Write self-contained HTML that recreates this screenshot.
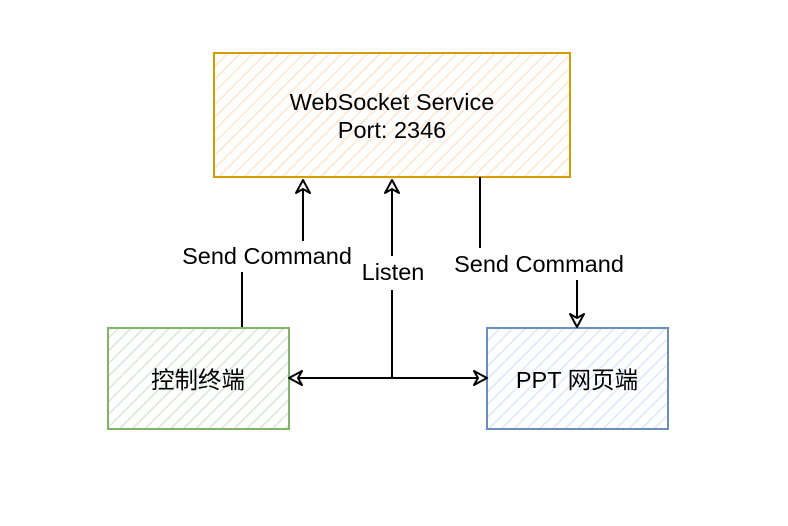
<!DOCTYPE html>
<html><head><meta charset="utf-8"><style>
html,body{margin:0;padding:0;background:#fff;}
svg{display:block}
text{font-family:"Liberation Sans","Noto Sans CJK SC",sans-serif;font-size:23.5px;fill:#000;text-anchor:middle}
</style></head><body>
<svg width="788" height="526" viewBox="0 0 788 526">
<defs>
<pattern id="po" width="9" height="9" patternUnits="userSpaceOnUse" patternTransform="rotate(45)"><rect width="9" height="9" fill="#fff"/><line x1="0" y1="0" x2="0" y2="9" stroke="#ffe6cc" stroke-width="3"/></pattern>
<pattern id="pg" width="9" height="9" patternUnits="userSpaceOnUse" patternTransform="rotate(45)"><rect width="9" height="9" fill="#fff"/><line x1="0" y1="0" x2="0" y2="9" stroke="#d5e8d4" stroke-width="3"/></pattern>
<pattern id="pb" width="9" height="9" patternUnits="userSpaceOnUse" patternTransform="rotate(45)"><rect width="9" height="9" fill="#fff"/><line x1="0" y1="0" x2="0" y2="9" stroke="#dae8fc" stroke-width="3"/></pattern>
</defs>
<rect x="214" y="53" width="356" height="124" fill="url(#po)" stroke="#d79b00" stroke-width="2"/>
<rect x="108" y="328" width="181" height="101" fill="url(#pg)" stroke="#82b366" stroke-width="2"/>
<rect x="487" y="328" width="181" height="101" fill="url(#pb)" stroke="#6c8ebf" stroke-width="2"/>
<text x="392" y="110">WebSocket Service</text>
<text x="392" y="138">Port: 2346</text>
<text x="198" y="388">控制终端</text>
<text x="577" y="388">PPT 网页端</text>
<g stroke="#000" stroke-width="2" fill="none">
<line x1="242" y1="327" x2="242" y2="272"/>
<line x1="303" y1="241" x2="303" y2="182"/>
<line x1="392" y1="378" x2="392" y2="290"/>
<line x1="392" y1="256" x2="392" y2="182"/>
<line x1="480" y1="177" x2="480" y2="248"/>
<line x1="577" y1="280" x2="577" y2="325"/>
<line x1="291" y1="378" x2="485" y2="378"/>
</g>
<g stroke="#000" stroke-width="2" fill="#fff" stroke-linejoin="round">
<path d="M303 180 L296 193 L303 189 L310 193 Z"/>
<path d="M392 180 L385 193 L392 189 L399 193 Z"/>
<path d="M577 327 L570 314 L577 318 L584 314 Z"/>
<path d="M289 378 L302 371 L298 378 L302 385 Z"/>
<path d="M487 378 L474 371 L478 378 L474 385 Z"/>
</g>
<text x="267" y="264">Send Command</text>
<text x="393" y="280">Listen</text>
<text x="539" y="272">Send Command</text>
</svg>
</body></html>
